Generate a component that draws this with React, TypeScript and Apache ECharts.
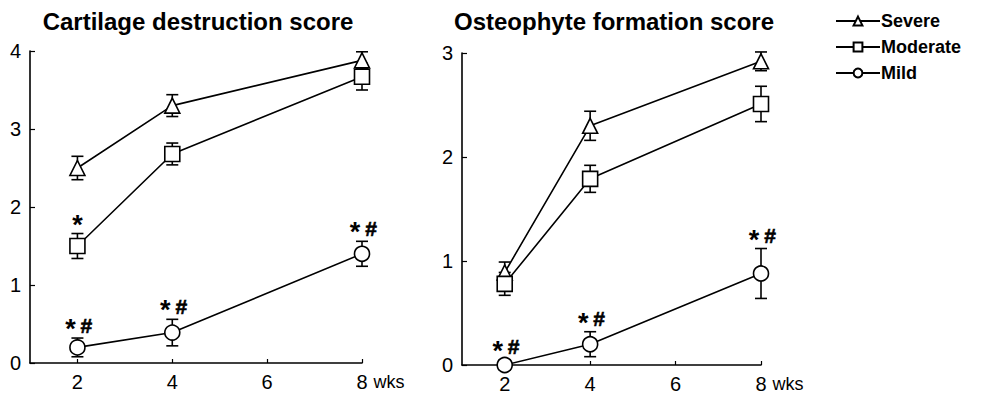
import React, { useEffect, useRef } from "react";
import * as echarts from "echarts";

const weeks = [2, 4, 8];
const xTicks = [2, 4, 6, 8];

// Cartilage destruction score
const cartSevere = [2.5, 3.3, 3.88];
const cartSevereErr = [0.15, 0.14, 0.11];
const cartModerate = [1.5, 2.68, 3.67];
const cartModerateErr = [0.16, 0.14, 0.17];
const cartMild = [0.2, 0.39, 1.4];
const cartMildErr = [0.12, 0.17, 0.16];
const cartMarks: [number, number, string][] = [
  [2, 1.66, "*"],
  [2, 0.32, "*#"],
  [4, 0.56, "*#"],
  [8, 1.56, "*#"],
];

// Osteophyte formation score
const osteoSevere = [0.89, 2.3, 2.92];
const osteoSevereErr = [0.1, 0.14, 0.09];
const osteoModerate = [0.78, 1.79, 2.51];
const osteoModerateErr = [0.11, 0.13, 0.17];
const osteoMild = [0, 0.2, 0.88];
const osteoMildErr = [0.05, 0.12, 0.24];
const osteoMarks: [number, number, string][] = [
  [2, 0.05, "*#"],
  [4, 0.32, "*#"],
  [8, 1.12, "*#"],
];

const FONT = "Liberation Sans, Arial, Helvetica, sans-serif";

function pairs(vals: number[]) {
  return weeks.map((w, i) => [w, vals[i]]);
}
function errs(vals: number[], e: number[]) {
  return weeks.map((w, i) => [w, vals[i] - e[i], vals[i] + e[i]]);
}

function errSeries(idx: number, vals: number[], e: number[]) {
  return {
    type: "custom",
    xAxisIndex: idx,
    yAxisIndex: idx,
    z: 2,
    silent: true,
    data: errs(vals, e),
    renderItem: (params: any, api: any) => {
      const x = api.value(0);
      const lo = api.coord([x, api.value(1)]);
      const hi = api.coord([x, api.value(2)]);
      const hw = 6;
      const st = { stroke: "#000", lineWidth: 1.6 };
      return {
        type: "group",
        children: [
          { type: "line", shape: { x1: lo[0], y1: lo[1], x2: hi[0], y2: hi[1] }, style: st },
          { type: "line", shape: { x1: lo[0] - hw, y1: lo[1], x2: lo[0] + hw, y2: lo[1] }, style: st },
          { type: "line", shape: { x1: hi[0] - hw, y1: hi[1], x2: hi[0] + hw, y2: hi[1] }, style: st },
        ],
      };
    },
  };
}

function lineSeries(idx: number, name: string, symbol: string, vals: number[]) {
  return {
    type: "line",
    name,
    xAxisIndex: idx,
    yAxisIndex: idx,
    z: 3,
    symbol,
    symbolSize: 15,
    showSymbol: true,
    data: pairs(vals),
    lineStyle: { color: "#000", width: 1.6 },
    itemStyle: { color: "#fff", borderColor: "#000", borderWidth: 1.6 },
    emphasis: { disabled: true },
  };
}

function markSeries(idx: number, marks: [number, number, string][]) {
  return {
    type: "custom",
    xAxisIndex: idx,
    yAxisIndex: idx,
    z: 4,
    silent: true,
    data: marks,
    renderItem: (params: any, api: any) => {
      const p = api.coord([api.value(0), api.value(1)]);
      const txt = marks[params.dataIndex][2];
      const hasHash = txt.indexOf("#") >= 0;
      const cy = p[1] - 13;
      const children: any[] = [
        {
          type: "text",
          x: hasHash ? p[0] - 7 : p[0],
          y: cy + 4,
          style: {
            text: "*",
            textAlign: "center",
            textVerticalAlign: "middle",
            font: `bold 27px ${FONT}`,
            fill: "#000",
          },
        },
      ];
      if (hasHash) {
        children.push({
          type: "text",
          x: p[0] + 9,
          y: cy,
          style: {
            text: "#",
            textAlign: "center",
            textVerticalAlign: "middle",
            font: `bold 21px ${FONT}`,
            fill: "#000",
            stroke: "#000",
            lineWidth: 0.6,
          },
        });
      }
      return { type: "group", children };
    },
  };
}

function xAxis(idx: number) {
  return {
    type: "value",
    gridIndex: idx,
    min: 1,
    max: 8,
    name: "wks",
    nameLocation: "end",
    nameGap: 9,
    nameTextStyle: { fontSize: 18, color: "#000", fontFamily: FONT, verticalAlign: "top", padding: [10, 0, 0, 0] },
    axisLine: { lineStyle: { color: "#000", width: 1.6 } },
    axisTick: { show: true, inside: true, length: 4, customValues: xTicks, lineStyle: { color: "#000", width: 1.2 } },
    axisLabel: { customValues: xTicks, fontSize: 20, color: "#000", fontFamily: FONT, margin: 9 },
    splitLine: { show: false },
  };
}

function yAxis(idx: number, max: number) {
  return {
    type: "value",
    gridIndex: idx,
    min: 0,
    max,
    interval: 1,
    axisLine: { show: true, lineStyle: { color: "#000", width: 1.6 } },
    axisTick: { show: true, inside: true, length: 5, lineStyle: { color: "#000", width: 1.2 } },
    axisLabel: { fontSize: 20, color: "#000", fontFamily: FONT, margin: 9 },
    splitLine: { show: false },
  };
}

export default function App() {
  const ref = useRef<HTMLDivElement>(null);
  useEffect(() => {
    if (!ref.current) return;
    const chart = echarts.init(ref.current, undefined, { renderer: "svg" });
    chart.setOption({
      animation: false,
      backgroundColor: "#fff",
      textStyle: { fontFamily: FONT },
      grid: [
        { left: 30, top: 51, width: 332, height: 312 },
        { left: 462, top: 53, width: 299, height: 313 },
      ],
      xAxis: [xAxis(0), xAxis(1)],
      yAxis: [yAxis(0, 4), yAxis(1, 3)],
      legend: {
        orient: "vertical",
        left: 830,
        top: 7,
        itemWidth: 44,
        itemHeight: 11,
        itemGap: 8,
        data: ["Severe", "Moderate", "Mild"],
        textStyle: { fontSize: 18, fontWeight: "bold", color: "#000", fontFamily: FONT, padding: [0, 0, 0, -4] },
      },
      graphic: [
        {
          type: "text",
          x: 198,
          y: 21,
          style: {
            text: "Cartilage destruction score",
            textAlign: "center",
            textVerticalAlign: "middle",
            font: `bold 24px ${FONT}`,
            fill: "#000",
          },
        },
        {
          type: "text",
          x: 614,
          y: 21,
          style: {
            text: "Osteophyte formation score",
            textAlign: "center",
            textVerticalAlign: "middle",
            font: `bold 24px ${FONT}`,
            fill: "#000",
          },
        },
      ],
      series: [
        errSeries(0, cartSevere, cartSevereErr),
        errSeries(0, cartModerate, cartModerateErr),
        errSeries(0, cartMild, cartMildErr),
        lineSeries(0, "Severe", "triangle", cartSevere),
        lineSeries(0, "Moderate", "rect", cartModerate),
        lineSeries(0, "Mild", "circle", cartMild),
        markSeries(0, cartMarks),
        errSeries(1, osteoSevere, osteoSevereErr),
        errSeries(1, osteoModerate, osteoModerateErr),
        errSeries(1, osteoMild, osteoMildErr),
        lineSeries(1, "Severe", "triangle", osteoSevere),
        lineSeries(1, "Moderate", "rect", osteoModerate),
        lineSeries(1, "Mild", "circle", osteoMild),
        markSeries(1, osteoMarks),
      ],
    });
    return () => chart.dispose();
  }, []);
  return (
    <div
      ref={ref}
      style={{ position: "fixed", left: 0, top: 0, width: 981, height: 394, background: "#fff" }}
    />
  );
}
